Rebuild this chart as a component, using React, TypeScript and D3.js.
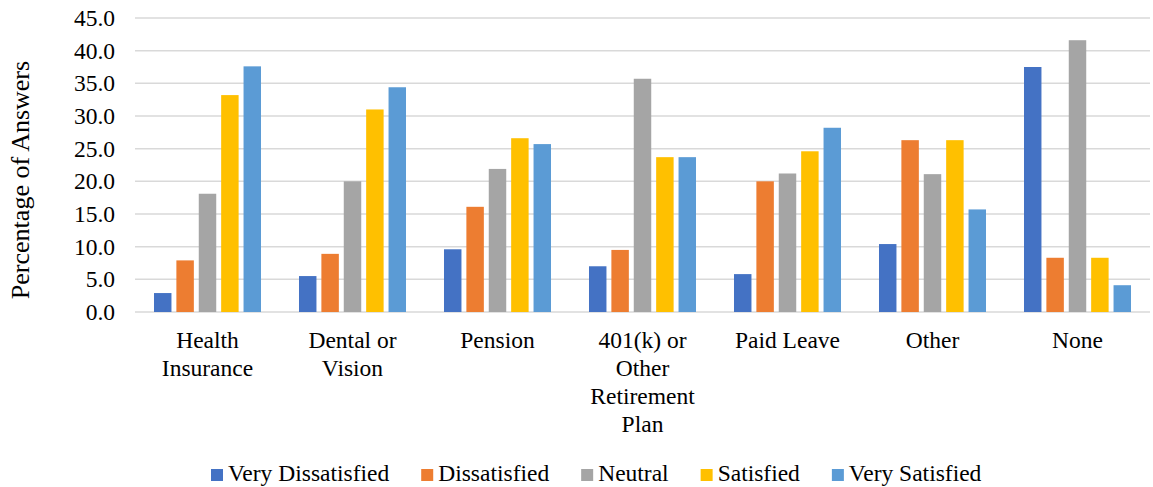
import React from "react";
import * as d3 from "d3";

const categories = ["Health Insurance", "Dental or Vision", "Pension", "401(k) or Other Retirement Plan", "Paid Leave", "Other", "None"];
const categoryLines = [["Health", "Insurance"], ["Dental or", "Vision"], ["Pension"], ["401(k) or", "Other", "Retirement", "Plan"], ["Paid Leave"], ["Other"], ["None"]];
const seriesNames = ["Very Dissatisfied", "Dissatisfied", "Neutral", "Satisfied", "Very Satisfied"];
const veryDissatisfied = [2.9, 5.5, 9.6, 7.0, 5.8, 10.4, 37.5];
const dissatisfied = [7.9, 8.9, 16.1, 9.5, 20.0, 26.3, 8.3];
const neutral = [18.1, 20.0, 21.9, 35.7, 21.2, 21.1, 41.6];
const satisfied = [33.2, 31.0, 26.6, 23.7, 24.6, 26.3, 8.3];
const verySatisfied = [37.6, 34.4, 25.7, 23.7, 28.2, 15.7, 4.1];
const yTicks = [0, 5, 10, 15, 20, 25, 30, 35, 40, 45];
const colors = ["#4472C4", "#ED7D31", "#A5A5A5", "#FFC000", "#5B9BD5"];

const W = 1153, H = 487;
const FONT = "Liberation Serif";
const FS = 23.5;

function measure(text: string, size: number): number {
  const c = document.createElement("canvas").getContext("2d");
  if (!c) return text.length * size * 0.45;
  c.font = `${size}px "Liberation Serif"`;
  return c.measureText(text).width;
}

export default function App() {
  const series = [veryDissatisfied, dissatisfied, neutral, satisfied, verySatisfied];
  const left = 135, right = 1150, top = 18, bottom = 312;
  const y = d3.scaleLinear().domain([0, 45]).range([bottom, top]);
  const x0 = d3.scaleBand<string>().domain(categories).range([left, right]).paddingInner(0.262).paddingOuter(0.131);
  const x1 = d3.scaleBand<string>().domain(seriesNames).range([0, x0.bandwidth()]).paddingInner(0.22).paddingOuter(0);

  const legendX: number[] = [];
  let lx = 211;
  seriesNames.forEach((name) => {
    legendX.push(lx);
    lx += 17 + measure(name, FS) + 32;
  });

  const txt = { fontFamily: FONT, fontSize: FS, fill: "#000" } as React.CSSProperties;

  return (
    <svg width={W} height={H} style={{ position: "absolute", left: 0, top: 0, background: "#fff" }}>
      <g>
        {yTicks.map((t) => (
          <line key={t} x1={left} x2={right} y1={y(t)} y2={y(t)} stroke="#d9d9d9" strokeWidth={1.5} />
        ))}
      </g>
      <g>
        {yTicks.map((t) => (
          <text key={t} x={115} y={y(t) + 8} textAnchor="end" style={txt}>{t.toFixed(1)}</text>
        ))}
      </g>
      <text transform="translate(29,180) rotate(-90)" textAnchor="middle" style={{ ...txt, fontSize: 26 }}>Percentage of Answers</text>
      <g>
        {categories.map((c, i) => (
          <g key={c} transform={`translate(${x0(c)},0)`}>
            {series.map((s, j) => (
              <rect key={j} x={x1(seriesNames[j])} width={x1.bandwidth()} y={y(s[i])} height={y(0) - y(s[i])} fill={colors[j]} />
            ))}
          </g>
        ))}
      </g>
      <g>
        {categories.map((c, i) => {
          const cx = (x0(c) as number) + x0.bandwidth() / 2;
          return (
            <text key={c} textAnchor="middle" style={txt}>
              {categoryLines[i].map((line, k) => (
                <tspan key={k} x={cx} y={347.5 + k * 28}>{line}</tspan>
              ))}
            </text>
          );
        })}
      </g>
      <g>
        {seriesNames.map((name, j) => (
          <g key={name}>
            <rect x={legendX[j]} y={469} width={12} height={12} fill={colors[j]} />
            <text x={legendX[j] + 17} y={481} style={txt}>{name}</text>
          </g>
        ))}
      </g>
    </svg>
  );
}
